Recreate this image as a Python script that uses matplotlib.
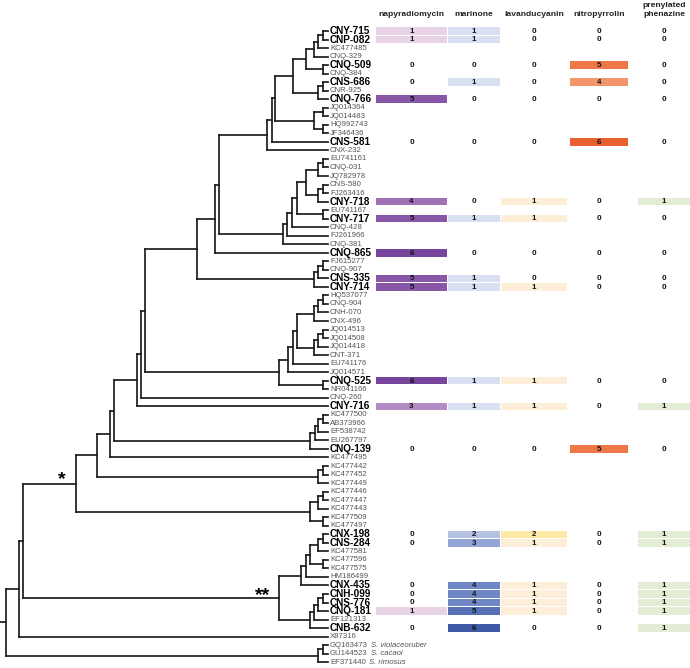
import matplotlib
matplotlib.use("Agg")
from matplotlib import pyplot as plt

plt.rcParams['font.family'] = ['Liberation Sans', 'DejaVu Sans']

# Leaves of the tree, top to bottom:
leaves = ["CNY-715", "CNP-082", "KC477485", "CNQ-329", "CNQ-509", "CNQ-384",
	"CNS-686", "CNR-925", "CNQ-766", "JQ014364", "JQ014483", "HQ992743",
	"JF346436", "CNS-581", "CNX-232", "EU741161", "CNQ-031", "JQ782978",
	"CNS-580", "FJ263416", "CNY-718", "EU741167", "CNY-717", "CNQ-428",
	"FJ261966", "CNQ-381", "CNQ-865", "FJ615277", "CNQ-907", "CNS-335",
	"CNY-714", "HQ537077", "CNQ-904", "CNH-070", "CNX-496", "JQ014513",
	"JQ014508", "JQ014418", "CNT-371", "EU741176", "JQ014571", "CNQ-525",
	"NR041166", "CNQ-260", "CNY-716", "KC477500", "AB373966", "EF538742",
	"EU267797", "CNQ-139", "KC477495", "KC477442", "KC477452", "KC477449",
	"KC477446", "KC477447", "KC477443", "KC477509", "KC477497", "CNX-198",
	"CNS-284", "KC477581", "KC477596", "KC477575", "HM186499", "CNX-435",
	"CNH-099", "CNS-776", "CNQ-181", "EF121313", "CNB-632", "X87316",
	"GQ163473", "GU144523", "EF371440"]
species = {"GQ163473": "S. violaceoruber", "GU144523": "S. cacaoi",
	"EF371440": "S. rimosus"}

# Internal nodes: (depth, first leaf, last leaf)
nodes = [
	(323, 0, 1), (318, 0, 2), (314, 0, 3), (323, 4, 5), (306, 0, 5),
	(323, 6, 7), (318, 6, 8), (293, 0, 8), (323, 9, 10), (323, 11, 12),
	(314, 9, 12), (275, 0, 12), (272, 0, 13), (267, 0, 14),
	(323, 15, 16), (318, 15, 17), (323, 18, 19), (318, 18, 20), (306, 15, 20),
	(323, 21, 22), (297, 15, 22), (292, 15, 23), (287, 15, 24), (283, 15, 25),
	(219, 0, 25), (215, 0, 26),
	(323, 27, 28), (318, 27, 29), (314, 27, 30), (197, 0, 30),
	(323, 31, 32), (318, 31, 33), (314, 31, 34), (323, 35, 36), (318, 35, 37),
	(314, 35, 38), (297, 31, 38), (293, 31, 39), (288, 31, 40), (323, 41, 42),
	(279, 31, 42),
	(145, 0, 42), (141, 0, 43), (137, 0, 44),
	(323, 45, 46), (318, 45, 47), (315, 45, 48), (310, 45, 49),
	(114, 0, 49), (110, 0, 50),
	(323, 51, 52), (318, 51, 53), (97, 0, 53),
	(323, 54, 55), (318, 54, 56), (323, 57, 58), (310, 54, 58), (76, 0, 58),
	(323, 59, 60), (318, 59, 61), (323, 62, 63), (310, 59, 63), (306, 59, 64),
	(301, 59, 65), (323, 66, 67), (318, 66, 68), (314, 66, 69), (310, 66, 70),
	(279, 59, 70),
	(23, 0, 70), (19, 0, 71),
	(323, 72, 73), (318, 72, 74), (6, 0, 74)]

compounds = ["napyradiomycin", "marinone", "lavanducyanin", "nitropyrrolin",
	"prenylated\nphenazine"]
tested = ["CNY-715", "CNP-082", "CNQ-509", "CNS-686", "CNQ-766", "CNS-581",
	"CNY-718", "CNY-717", "CNQ-865", "CNS-335", "CNY-714", "CNQ-525",
	"CNY-716", "CNQ-139", "CNX-198", "CNS-284", "CNX-435", "CNH-099",
	"CNS-776", "CNQ-181", "CNB-632"]
napyradiomycin = [1, 1, 0, 0, 5, 0, 4, 5, 6, 5, 5, 6, 3, 0, 0, 0, 0, 0, 0, 1, 0]
marinone = [1, 1, 0, 1, 0, 0, 0, 1, 0, 1, 1, 1, 1, 0, 2, 3, 4, 4, 4, 5, 6]
lavanducyanin = [0, 0, 0, 0, 0, 0, 1, 1, 0, 0, 1, 1, 1, 0, 2, 1, 1, 1, 1, 1, 0]
nitropyrrolin = [0, 0, 5, 4, 0, 6, 0, 0, 0, 0, 0, 0, 0, 5, 0, 0, 0, 0, 0, 0, 0]
phenazine = [0, 0, 0, 0, 0, 0, 1, 0, 0, 0, 0, 0, 1, 0, 1, 1, 1, 1, 1, 1, 1]

# Colour per level for each compound:
palettes = [
	{1: '#e9d4e7', 3: '#b38cc5', 4: '#a071b5', 5: '#8957a8', 6: '#77459b'},
	{1: '#d9e0f1', 2: '#b4c1e3', 3: '#94a6d8', 4: '#6e86c4', 5: '#5570b5', 6: '#3e59a5'},
	{1: '#fdeed8', 2: '#fde8a6'},
	{1: '#f7c4a8', 4: '#f2946c', 5: '#ee7747', 6: '#e9602f'},
	{1: '#e3ecd5'}]
col_left = [376, 448, 501, 570, 638]
col_right = [447, 500, 567, 628, 690]

fig = plt.figure(figsize=(6.9, 6.68), dpi=100)
ax = fig.add_axes([0, 0, 1, 1])
ax.set_xlim(0, 690)
ax.set_ylim(668, 0)
ax.axis('off')

y0, dy = 31.0, 8.53
leaf_x = 328
lc = '#1e1e1e'
lw = 1.25

# Tree:
tops = [(i, i, leaf_x, y0 + i * dy) for i in range(len(leaves))]
for depth, a, b in sorted(nodes, key=lambda n: n[2] - n[1]):
	kids = sorted([t for t in tops if t[0] >= a and t[1] <= b])
	tops = [t for t in tops if not (t[0] >= a and t[1] <= b)]
	ya, yb = kids[0][3], kids[-1][3]
	ax.plot([depth, depth], [ya, yb], color=lc, lw=lw, solid_capstyle='projecting')
	for k in kids:
		ax.plot([depth, k[2]], [k[3], k[3]], color=lc, lw=lw,
			solid_capstyle='projecting')
	tops.append((a, b, depth, (ya + yb) / 2.))
root = tops[0]
ax.plot([0, root[2]], [root[3], root[3]], color=lc, lw=lw)

# Support marks:
ax.text(62, 484.5, '*', fontsize=14, fontweight='bold', ha='center', va='baseline')
ax.text(263, 600, '**', fontsize=14, fontweight='bold', ha='center', va='baseline')

# Leaf labels:
for i, name in enumerate(leaves):
	y = y0 + i * dy
	if name in tested:
		ax.text(330, y, name, fontsize=7.2, fontweight='bold', ha='left',
			va='center', color='black')
	else:
		t = ax.text(330, y, name, fontsize=5.6, ha='left', va='center',
			color='#555555')
		if name in species:
			ax.annotate(species[name], xy=(1, 0.5), xycoords=t,
				xytext=(2.5, 0), textcoords='offset points', fontsize=5.6,
				style='italic', ha='left', va='center', color='#555555')

# Heatmap:
values = [napyradiomycin, marinone, lavanducyanin, nitropyrrolin, phenazine]
for j, col in enumerate(values):
	xc = (col_left[j] + col_right[j]) / 2.
	ax.text(xc, 14 if j < 4 else 10, compounds[j], fontsize=6.1,
		fontweight='bold', ha='center', va='center', color='#222222',
		linespacing=1.3)
	for k, v in enumerate(col):
		y = y0 + leaves.index(tested[k]) * dy
		if v > 0:
			ax.barh(y, col_right[j] - col_left[j], left=col_left[j],
				height=dy - 1.0, color=palettes[j][v], edgecolor='none')
		ax.text(xc, y + 0.3, str(v), fontsize=5.8, fontweight='bold',
			ha='center', va='center', color='#111111')

plt.savefig("out.png", dpi=100)
